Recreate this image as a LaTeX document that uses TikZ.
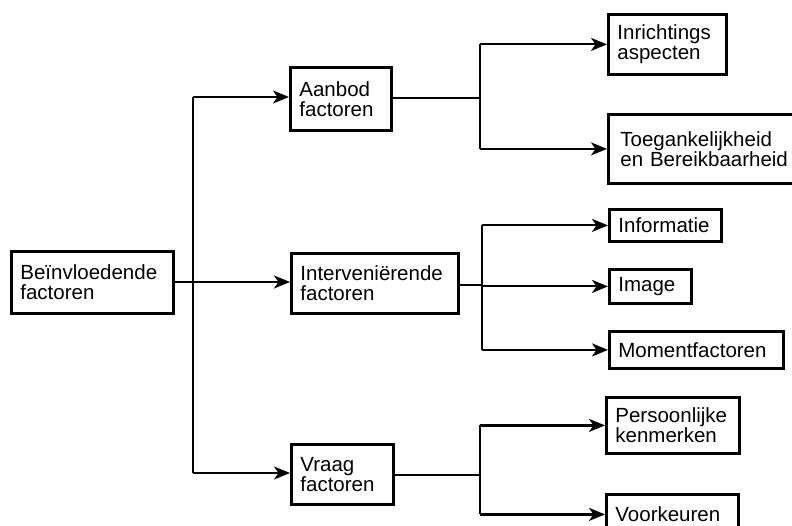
\documentclass[tikz,border=0pt]{standalone}
\usepackage{fontspec}
\setmainfont{Liberation Sans}
\usetikzlibrary{arrows.meta}
\tikzset{
  box/.style={draw, line width=2.8pt, anchor=north west, align=left,
    inner xsep=9pt, inner ysep=0pt, font=\fontsize{20.5}{20}\selectfont},
  conn/.style={line width=2.2pt},
  arr/.style={conn, -{Stealth[length=16pt,width=13pt,inset=4.5pt]}},
}
\begin{document}
\begin{tikzpicture}[x=1pt,y=-1pt]
\clip (0,0) rectangle (792,526);
\fill[white] (0,0) rectangle (792,526);
% level 0
\node[box, text width=144pt, minimum height=62pt] (b) at (10,250) {Beïnvloedende\\factoren};
% level 1
\node[box, text width=83pt, minimum height=63pt] (a) at (289,66) {Aanbod\\factoren};
\node[box, text width=149pt, minimum height=60pt] (i) at (290,252) {Interveniërende\\factoren};
\node[box, text width=84pt, minimum height=60pt] (v) at (290,443) {Vraag\\factoren};
% level 2
\node[box, text width=100pt, minimum height=60pt] (in) at (607,13) {Inrichtings\\aspecten};
\node[box, text width=190pt, minimum height=69pt, inner xsep=12pt] (t) at (607,113) {Toegankelijkheid\\en Bereikbaarheid};
\node[box, text width=94pt, minimum height=32pt] (inf) at (608,208) {Informatie};
\node[box, text width=64pt, minimum height=34pt] (im) at (608,268) {Image};
\node[box, text width=156pt, minimum height=37pt] (m) at (608,330) {Momentfactoren};
\node[box, text width=115pt, minimum height=56pt] (p) at (605,396) {Persoonlijke\\kenmerken};
\node[box, text width=114pt, minimum height=40pt] (vk) at (605,493) {Voorkeuren};
% junctions
\coordinate (jA) at (193,97);
\coordinate (jI) at (193,282);
\coordinate (jV) at (193,473);
\coordinate (kA) at (480,98);
\coordinate (kI) at (482,285);
\coordinate (kV) at (480,475);
% trunk
\draw[conn] (jA) -- (jV);
\draw[conn] (b.east |- jI) -- (jI);
\draw[arr] (jA) -- (a.west |- jA);
\draw[arr] (jI) -- (i.west |- jI);
\draw[arr] (jV) -- (v.west |- jV);
% Aanbod branch
\draw[conn] (a.east |- kA) -- (kA);
\draw[conn] (kA |- in.west) -- (kA |- t.west);
\draw[arr] (kA |- in.west) -- (in.west);
\draw[arr] (kA |- t.west) -- (t.west);
% Interv branch
\draw[conn] (i.east |- kI) -- (kI);
\draw[conn] (kI |- inf.west) -- (kI |- m.west);
\draw[arr] (kI |- inf.west) -- (inf.west);
\draw[arr] (kI |- im.west) -- (im.west);
\draw[arr] (kI |- m.west) -- (m.west);
% Vraag branch
\draw[conn] (v.east |- kV) -- (kV);
\draw[conn] (kV |- p.west) -- (kV |- vk.west);
\draw[arr] (kV |- p.west) -- (p.west);
\draw[arr] (kV |- vk.west) -- (vk.west);
\end{tikzpicture}
\end{document}
